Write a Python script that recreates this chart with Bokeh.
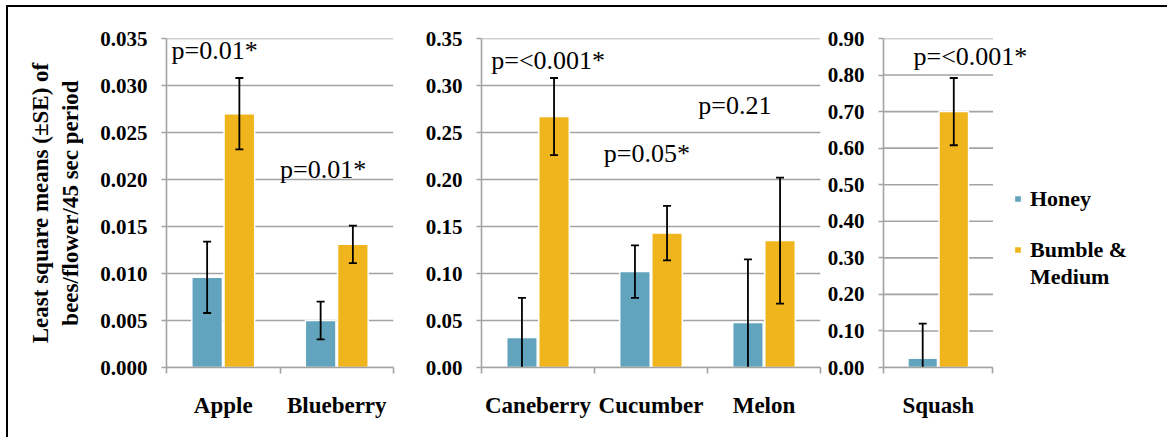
from bokeh.plotting import figure
from bokeh.models import (ColumnDataSource, FixedTicker, Legend, LegendItem,
                          Range1d, NumeralTickFormatter)
from bokeh.layouts import row
from bokeh.transform import dodge
from bokeh.core.properties import value
from bokeh.embed import file_html
from bokeh.resources import INLINE

# ---- data: least square means (±SE) of bees/flower/45 sec period ----
crops_fruit = ["Apple", "Blueberry"]
honey_fruit = [0.0096, 0.0050]
honey_se_fruit = [0.0038, 0.0020]
bumble_fruit = [0.0270, 0.0131]
bumble_se_fruit = [0.0038, 0.0020]
yticks_fruit = [0.000, 0.005, 0.010, 0.015, 0.020, 0.025, 0.030, 0.035]

crops_vine = ["Caneberry", "Cucumber", "Melon"]
honey_vine = [0.032, 0.102, 0.048]
honey_se_vine = [0.042, 0.028, 0.067]
bumble_vine = [0.267, 0.143, 0.135]
bumble_se_vine = [0.041, 0.029, 0.067]
yticks_vine = [0.00, 0.05, 0.10, 0.15, 0.20, 0.25, 0.30, 0.35]

crops_squash = ["Squash"]
honey_squash = [0.025]
honey_se_squash = [0.095]
bumble_squash = [0.700]
bumble_se_squash = [0.092]
yticks_squash = [0.00, 0.10, 0.20, 0.30, 0.40, 0.50, 0.60, 0.70, 0.80, 0.90]

# legend text; the second series name wraps onto two lines
honey_name = "Honey"
bumble_name_lines = ["Bumble &", "Medium"]

HONEY = "#62a3bd"
BUMBLE = "#f0b51c"
GRID = "#a3a3a3"
SERIF = "Liberation Serif"

BAR_W = 0.27
OFF = 0.142


def panel(crops, honey, honey_se, bumble, bumble_se, yticks, fmt,
          width, left, right, top, bottom, x_end=None, ylabel=None):
    n = len(crops)
    centers = [i + 0.5 for i in range(n)]
    src = ColumnDataSource(dict(
        x=centers, crop=crops,
        honey=honey, h_lo=[m - s for m, s in zip(honey, honey_se)],
        h_hi=[m + s for m, s in zip(honey, honey_se)],
        bumble=bumble, b_lo=[m - s for m, s in zip(bumble, bumble_se)],
        b_hi=[m + s for m, s in zip(bumble, bumble_se)],
    ))
    p = figure(width=width, height=430,
               x_range=Range1d(0, x_end if x_end else n),
               y_range=Range1d(yticks[0], yticks[-1]),
               output_backend="svg", toolbar_location=None,
               min_border_left=left, min_border_right=right,
               min_border_top=top, min_border_bottom=bottom)
    p.outline_line_color = None
    p.background_fill_color = "white"
    p.border_fill_color = "white"

    # horizontal gridlines across the category block only
    p.xgrid.grid_line_color = None
    p.ygrid.grid_line_color = None
    p.segment(x0=0, x1=n, y0=yticks, y1=yticks,
              line_color=GRID, line_width=1.6)

    hx = dodge("x", -OFF)
    bx = dodge("x", OFF)
    hb = p.vbar(x=hx, top="honey", bottom=0, width=BAR_W, source=src,
                fill_color=HONEY, line_color="white", line_width=1.5)
    bb = p.vbar(x=bx, top="bumble", bottom=0, width=BAR_W, source=src,
                fill_color=BUMBLE, line_color="white", line_width=1.5)

    # standard-error bars
    for xx, lo, hi in ((hx, "h_lo", "h_hi"), (bx, "b_lo", "b_hi")):
        p.segment(x0=xx, x1=xx, y0=lo, y1=hi, source=src,
                  line_color="black", line_width=1.8)
        for yy in (lo, hi):
            p.scatter(x=xx, y=yy, source=src, marker="dash", size=8,
                      line_color="black", line_width=1.8)

    # value axis
    p.yaxis.ticker = FixedTicker(ticks=yticks, minor_ticks=[])
    p.yaxis.formatter = NumeralTickFormatter(format=fmt)
    p.yaxis.axis_line_color = GRID
    p.yaxis.axis_line_width = 1.6
    p.yaxis.major_tick_line_color = GRID
    p.yaxis.major_tick_line_width = 1.6
    p.yaxis.major_tick_in = 0
    p.yaxis.major_tick_out = 5
    p.yaxis.major_label_standoff = 14
    p.yaxis.major_label_text_font = SERIF
    p.yaxis.major_label_text_font_style = "bold"
    p.yaxis.major_label_text_font_size = "21px"
    p.yaxis.major_label_text_color = "black"
    if ylabel:
        p.yaxis.axis_label = ylabel
        p.yaxis.axis_label_text_font = SERIF
        p.yaxis.axis_label_text_font_style = "bold"
        p.yaxis.axis_label_text_font_size = "23px"
        p.yaxis.axis_label_text_color = "black"
        p.yaxis.axis_label_standoff = 14

    # category axis: names at centres, tick marks between categories
    p.xaxis.bounds = (0, n)
    p.xaxis.ticker = FixedTicker(ticks=centers,
                                 minor_ticks=[float(i) for i in range(n + 1)])
    p.xaxis.major_label_overrides = {c: name for c, name in zip(centers, crops)}
    p.xaxis.axis_line_color = GRID
    p.xaxis.axis_line_width = 1.6
    p.xaxis.major_tick_line_color = None
    p.xaxis.major_tick_in = 0
    p.xaxis.major_tick_out = 0
    p.xaxis.minor_tick_line_color = GRID
    p.xaxis.minor_tick_line_width = 1.6
    p.xaxis.minor_tick_in = 0
    p.xaxis.minor_tick_out = 6
    p.xaxis.major_label_standoff = 19
    p.xaxis.major_label_text_font = SERIF
    p.xaxis.major_label_text_font_style = "bold"
    p.xaxis.major_label_text_font_size = "23px"
    p.xaxis.major_label_text_color = "black"
    return p, hb, bb


def pvals(p, xs, ys, texts):
    p.text(x=xs, y=ys, text=texts, text_font=value(SERIF),
           text_font_size="26px", text_color="black",
           text_baseline="alphabetic", text_align="left")


p1, _, _ = panel(crops_fruit, honey_fruit, honey_se_fruit, bumble_fruit,
                 bumble_se_fruit, yticks_fruit, "0.000",
                 width=397, left=158, right=12, top=31, bottom=66,
                 ylabel="Least square means (±SE) of\nbees/flower/45 sec period")
pvals(p1, [0.044, 1.0], [0.0337, 0.0211], ["p=0.01*", "p=0.01*"])

p2, _, _ = panel(crops_vine, honey_vine, honey_se_vine, bumble_vine,
                 bumble_se_vine, yticks_vine, "0.00",
                 width=417, left=76, right=2, top=26, bottom=68)
pvals(p2, [0.086, 1.082, 1.918], [0.327, 0.2276, 0.2787],
      ["p=<0.001*", "p=0.05*", "p=0.21"])

p3, hb3, bb3 = panel(crops_squash, honey_squash, honey_se_squash,
                     bumble_squash, bumble_se_squash, yticks_squash, "0.00",
                     width=345, left=61, right=7, top=29, bottom=70,
                     x_end=2.53)
pvals(p3, [0.274], [0.850], ["p=<0.001*"])

# continuation line of the wrapped legend entry carries no swatch
no_swatch = p3.vbar(x=[], top=[], width=0, fill_alpha=0, line_alpha=0)

legend_style = dict(orientation="vertical", glyph_width=9, glyph_height=9,
                    label_standoff=8, label_height=27, spacing=0,
                    padding=0, margin=0, border_line_color=None,
                    background_fill_alpha=0, label_text_font=SERIF,
                    label_text_font_style="bold", label_text_font_size="22px",
                    label_text_color="black")
legend_honey = Legend(items=[LegendItem(label=honey_name, renderers=[hb3])],
                      location=(130, 155), **legend_style)
legend_bumble = Legend(items=[
    LegendItem(label=bumble_name_lines[0], renderers=[bb3]),
    LegendItem(label=bumble_name_lines[1], renderers=[no_swatch])],
    location=(130, 77), **legend_style)
p3.add_layout(legend_honey)
p3.add_layout(legend_bumble)

layout = row(p1, p2, p3, styles={"margin-left": "6px", "margin-top": "5px",
                                 "border-left": "2px solid black",
                                 "border-top": "2px solid black"})

open("out.html", "w").write(file_html(layout, INLINE))
